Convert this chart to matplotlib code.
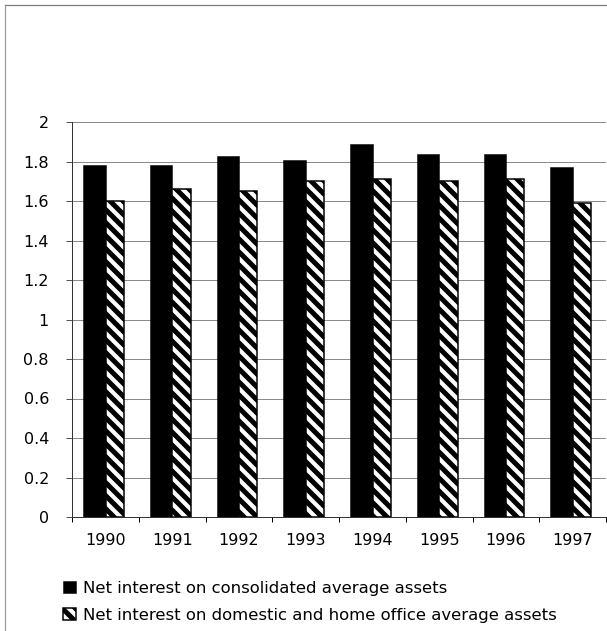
import matplotlib
matplotlib.use("Agg")
import matplotlib.pyplot as plt
from matplotlib.lines import Line2D
import numpy as np

years = ["1990", "1991", "1992", "1993", "1994", "1995", "1996", "1997"]
consolidated = [1.78, 1.78, 1.83, 1.81, 1.89, 1.84, 1.84, 1.77]
domestic = [1.60, 1.66, 1.65, 1.70, 1.71, 1.70, 1.71, 1.59]
yticks = [0, 0.2, 0.4, 0.6, 0.8, 1, 1.2, 1.4, 1.6, 1.8, 2]
ytick_labels = ["0", "0.2", "0.4", "0.6", "0.8", "1", "1.2", "1.4", "1.6", "1.8", "2"]
series_names = ["Net interest on consolidated average assets",
                "Net interest on domestic and home office average assets"]

DPI = 78
W, H = 607, 631


def px(v):
    """Convert a size in pixels to points at the figure dpi."""
    return v * 72.0 / DPI


plt.rcParams["font.family"] = ["DejaVu Sans"]
plt.rcParams["hatch.linewidth"] = px(5.0)

fig = plt.figure(figsize=(W / DPI, H / DPI), dpi=DPI)
ax = fig.add_axes([72 / W, (H - 517) / H, (606 - 72) / W, (517 - 122) / H])

x = np.arange(len(years))
b1 = ax.bar(x - 0.332, consolidated, width=0.334, align="edge",
            color="black", edgecolor="black", linewidth=px(0.5), zorder=3,
            label=series_names[0])
b2 = ax.bar(x + 0.002, domestic, width=0.275, align="edge",
            facecolor="white", edgecolor="black", hatch="\\\\", linewidth=px(1.5),
            zorder=3, label=series_names[1])

ax.set_xlim(-0.5, len(years) - 0.5)
ax.set_ylim(0, 2)
ax.set_yticks(yticks)
ax.set_yticklabels(ytick_labels)
ax.yaxis.grid(True, color="#8a8a8a", linewidth=px(1.0), zorder=0)
ax.set_axisbelow(True)

ax.set_xticks(x)
ax.set_xticklabels(years)
ax.set_xticks(np.arange(-0.5, len(years)), minor=True)
ax.tick_params(axis="x", which="major", length=0, pad=px(16), labelsize=px(16))
ax.tick_params(axis="x", which="minor", length=px(5), width=px(1), direction="out")
ax.tick_params(axis="y", length=px(6), width=px(1), pad=px(17), labelsize=px(16),
               color="#555555")

for s in ("top", "right"):
    ax.spines[s].set_visible(False)
for s in ("left", "bottom"):
    ax.spines[s].set_color("#333333")
    ax.spines[s].set_linewidth(px(1.0))

fig.legend(handles=[b1, b2], labels=series_names, loc="upper left",
           bbox_to_anchor=(63 / W, (H - 581) / H), frameon=False,
           fontsize=px(16.5), handlelength=0.8, handleheight=0.75,
           handletextpad=0.4, labelspacing=0.72, borderpad=0,
           borderaxespad=0)

# outer frame (left and top edges)
fig.add_artist(Line2D([5 / W, 5 / W], [0, 1 - 5 / H], transform=fig.transFigure,
                      color="#9a9a9a", linewidth=px(1.2)))
fig.add_artist(Line2D([5 / W, 1], [1 - 5 / H, 1 - 5 / H], transform=fig.transFigure,
                      color="#7a7a7a", linewidth=px(1.2)))

fig.savefig("out.png", dpi=DPI)
